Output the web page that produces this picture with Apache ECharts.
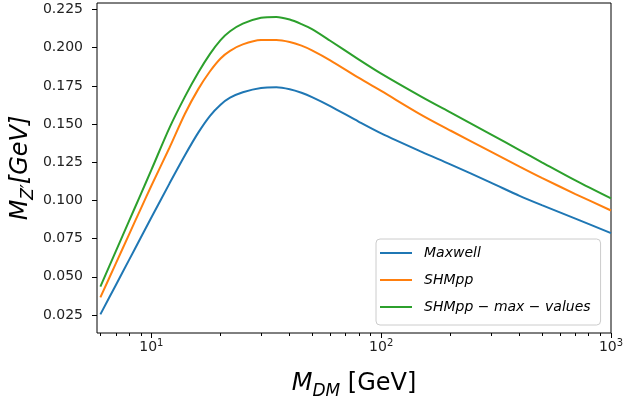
<!DOCTYPE html>
<html>
<head>
<meta charset="utf-8">
<script src="https://cdn.jsdelivr.net/npm/echarts@6/dist/echarts.min.js"></script>
<style>
  html, body { margin: 0; padding: 0; background: #fff; }
  #chart { width: 624px; height: 403px; }
</style>
</head>
<body>
<div id="chart"></div>
<script>
// dark matter mass [GeV], shared by all three curves
const massDM = [6, 7, 8, 9, 10, 12, 14, 16, 18, 20, 22, 25, 30, 35, 40, 45, 50, 60, 80, 100, 150, 200, 300, 400, 500, 700, 1000];
const maxwell = [0.0254, 0.0445, 0.0611, 0.0757, 0.0888, 0.1112, 0.1296, 0.1444, 0.1554, 0.1627, 0.1673, 0.1709, 0.1737, 0.1741, 0.1728, 0.1705, 0.1677, 0.1618, 0.1515, 0.1439, 0.1318, 0.1236, 0.1117, 0.1030, 0.0969, 0.0881, 0.0786];
const shmpp = [0.0365, 0.0586, 0.0778, 0.0947, 0.1096, 0.1347, 0.1568, 0.1729, 0.1846, 0.1930, 0.1980, 0.2022, 0.2050, 0.2051, 0.2038, 0.2014, 0.1983, 0.1918, 0.1802, 0.1717, 0.1559, 0.1458, 0.1320, 0.1222, 0.1148, 0.1042, 0.0934];
const shmppMax = [0.0436, 0.0666, 0.0866, 0.1042, 0.1200, 0.1477, 0.1680, 0.1838, 0.1960, 0.2050, 0.2108, 0.2158, 0.2196, 0.2202, 0.2185, 0.2155, 0.2122, 0.2046, 0.1922, 0.1830, 0.1678, 0.1576, 0.1433, 0.1330, 0.1250, 0.1131, 0.1013];

const seriesNames = ['Maxwell', 'SHMpp', 'SHMpp \u2212 max \u2212 values'];
const colors = ['#1f77b4', '#ff7f0e', '#2ca02c'];

const yTicks = [0.025, 0.05, 0.075, 0.1, 0.125, 0.15, 0.175, 0.2, 0.225];
const xMajorTicks = [10, 100, 1000];
const xMinorTicks = [6, 7, 8, 9, 20, 30, 40, 50, 60, 70, 80, 90, 200, 300, 400, 500, 600, 700, 800, 900];

const font = 'DejaVu Sans';
const pairs = ys => massDM.map((x, i) => [x, ys[i]]);

const chart = echarts.init(document.getElementById('chart'));

const nameRich = {
    i: { fontFamily: font, fontStyle: 'italic', fontSize: 24, lineHeight: 30, verticalAlign: 'middle', color: '#000' },
    n: { fontFamily: font, fontSize: 24, lineHeight: 30, verticalAlign: 'middle', color: '#000' },
    sub: { fontFamily: font, fontStyle: 'italic', fontSize: 17, lineHeight: 20, padding: [16, 0, 0, 0], verticalAlign: 'middle', color: '#000' }
};

const option = {
    animation: false,
    backgroundColor: '#fff',
    grid: {
        left: 97, top: 3, right: 13, bottom: 70,
        outerBoundsMode: 'none',
        show: true, borderColor: '#000', borderWidth: 1
    },
    legend: {
        orient: 'vertical',
        left: 376, top: 239,
        data: seriesNames,
        icon: 'rect',
        itemWidth: 32, itemHeight: 2, itemGap: 9,
        padding: [5, 10, 9, 4],
        backgroundColor: 'rgba(255,255,255,0.8)',
        borderColor: '#cccccc', borderWidth: 1, borderRadius: 4,
        textStyle: {
            fontFamily: font, fontStyle: 'italic', fontSize: 14, color: '#000',
            lineHeight: 18, padding: [0, 0, 0, 7]
        }
    },
    xAxis: [
        {
            type: 'log', logBase: 10, min: 5.8, max: 1000, position: 'bottom',
            name: '{i|M}{sub|DM}{n| [GeV]}',
            nameLocation: 'middle', nameGap: 36,
            nameTextStyle: { rich: nameRich },
            axisLine: { show: false },
            splitLine: { show: false },
            axisTick: { customValues: xMajorTicks, length: 5, lineStyle: { color: '#000', width: 1 } },
            axisLabel: {
                customValues: xMajorTicks, margin: 4,
                formatter: v => '{b|10}{s|' + Math.round(Math.log10(v)) + '}',
                rich: {
                    b: { fontFamily: font, fontSize: 14, lineHeight: 20, verticalAlign: 'middle', color: '#222' },
                    s: { fontFamily: font, fontSize: 10, lineHeight: 12, padding: [0, 0, 8, 0], verticalAlign: 'middle', color: '#222' }
                }
            }
        },
        {
            // minor ticks only
            type: 'log', logBase: 10, min: 5.8, max: 1000, position: 'bottom',
            axisLine: { show: false },
            splitLine: { show: false },
            axisLabel: { show: false },
            axisTick: { customValues: xMinorTicks, length: 3, lineStyle: { color: '#000', width: 1 } }
        }
    ],
    yAxis: {
        type: 'value', min: 0.0132, max: 0.2293,
        name: '{i|M}{sub|Z\u2032}{i|[GeV]}',
        nameLocation: 'middle', nameRotate: 90, nameGap: 61,
        nameMoveOverlap: false,
        nameTextStyle: { rich: nameRich },
        axisLine: { show: false },
        splitLine: { show: false },
        axisTick: { customValues: yTicks, length: 5, lineStyle: { color: '#000', width: 1 } },
        axisLabel: {
            customValues: yTicks, margin: 14,
            fontFamily: font, fontSize: 14, color: '#222',
            formatter: v => v.toFixed(3)
        }
    },
    series: [maxwell, shmpp, shmppMax].map((ys, k) => ({
        name: seriesNames[k],
        type: 'line',
        xAxisIndex: 0,
        data: pairs(ys),
        symbol: 'none',
        smooth: 0.3,
        color: colors[k],
        lineStyle: { width: 2, color: colors[k] }
    }))
};

chart.setOption(option);
</script>
</body>
</html>
